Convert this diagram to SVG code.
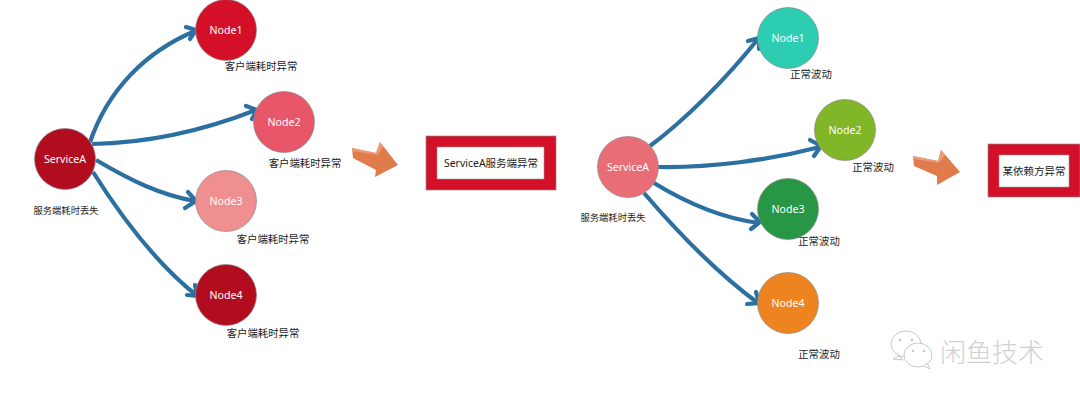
<svg xmlns="http://www.w3.org/2000/svg" width="1080" height="400" viewBox="0 0 1080 400">
<style>
text{font-family:"Noto Sans","Noto Sans CJK SC",sans-serif;text-anchor:middle}
.n{stroke:#8a8a8a;stroke-width:.7}
.nt{fill:#fff;font-size:10.6px}
.l{fill:#222;font-size:10.4px}
.s{fill:#222;font-size:9.3px}
.c{fill:none;stroke:#2b70a0;stroke-width:4.2}
.h{fill:none;stroke:#2b70a0;stroke-width:4.2;stroke-linecap:round;stroke-linejoin:miter}
.b{fill:#d31027;stroke:#8a8a8a;stroke-width:.7}
.i{fill:#fff;stroke:#999;stroke-width:.6}
.bt{fill:#222;font-size:10.5px}
.ar{fill:#e07b4c}
.ah{fill:#eb9b78}
.w{fill:#fff;stroke:#c8c8c8;stroke-width:1}
.wd{fill:#c8c8c8}
</style>
<g id="connectors">
<path class="c" d="M90 142C108 90 145 52 195 31"/><path class="h" d="M186 27L196 30L190 39"/>
<path class="c" d="M92 144C150 143 205 130 256 110"/><path class="h" d="M246 106L257 110L252 119"/>
<path class="c" d="M96 160C130 180 160 195 195 201"/><path class="h" d="M188 192L196 201L185 208"/>
<path class="c" d="M93 172C120 215 155 262 196 295"/><path class="h" d="M187 295L197 296L195 285"/>
<path class="c" d="M650 146C685 120 725 80 758 39"/><path class="h" d="M748 41L759 38L759 49"/>
<path class="c" d="M658 167C710 168 770 160 820 147"/><path class="h" d="M810 140L821 146L814 156"/>
<path class="c" d="M654 183C685 202 720 218 759 223"/><path class="h" d="M752 214L760 222L751 229"/>
<path class="c" d="M644 193C680 235 720 275 758 303"/><path class="h" d="M747 304L759 303L756 292"/>
</g>
<g id="serviceA-left"><circle class="n" cx="65" cy="159" r="30.5" fill="#b20d1f"/><text class="nt" x="65" y="163">ServiceA</text><text class="s" x="66" y="214">服务端耗时丢失</text></g>
<g id="node1-left"><circle class="n" cx="226" cy="30" r="30.5" fill="#d31027"/><text class="nt" x="226" y="34">Node1</text><text class="l" x="261" y="70">客户端耗时异常</text></g>
<g id="node2-left"><circle class="n" cx="284" cy="122" r="30.5" fill="#e8566a"/><text class="nt" x="284" y="126">Node2</text><text class="l" x="305" y="167">客户端耗时异常</text></g>
<g id="node3-left"><circle class="n" cx="226" cy="201" r="30.5" fill="#ef8f8f"/><text class="nt" x="226" y="205">Node3</text><text class="l" x="273" y="243">客户端耗时异常</text></g>
<g id="node4-left"><circle class="n" cx="226" cy="295" r="30.5" fill="#b20d1f"/><text class="nt" x="226" y="299">Node4</text><text class="l" x="263" y="337">客户端耗时异常</text></g>
<g id="arrow-left"><path class="ar" d="M352 148L376 153L380 142L398 165L375 177L376 170L353 158Z"/><path class="ah" d="M352 148L376 153L380 142L383 146L378 155L353 151Z"/></g>
<g id="result-left"><rect class="b" x="426" y="136" width="130" height="54"/><rect class="i" x="437" y="147" width="107" height="32"/><text class="bt" x="491" y="167">ServiceA服务端异常</text></g>
<g id="serviceA-right"><circle class="n" cx="628" cy="167" r="30.5" fill="#e96d76"/><text class="nt" x="628" y="171">ServiceA</text><text class="s" x="613" y="221">服务端耗时丢失</text></g>
<g id="node1-right"><circle class="n" cx="788" cy="38" r="30.5" fill="#2dcdb2"/><text class="nt" x="788" y="42">Node1</text><text class="l" x="811" y="78">正常波动</text></g>
<g id="node2-right"><circle class="n" cx="845" cy="130" r="30.5" fill="#80b628"/><text class="nt" x="845" y="134">Node2</text><text class="l" x="873" y="171">正常波动</text></g>
<g id="node3-right"><circle class="n" cx="788" cy="209" r="30.5" fill="#279645"/><text class="nt" x="788" y="213">Node3</text><text class="l" x="819" y="245">正常波动</text></g>
<g id="node4-right"><circle class="n" cx="788" cy="303" r="30.5" fill="#ee8420"/><text class="nt" x="788" y="307">Node4</text><text class="l" x="819" y="358">正常波动</text></g>
<g id="arrow-right"><path class="ar" d="M913 156L938 161L941 150L960 172L937 185L937 176L914 166Z"/><path class="ah" d="M913 156L938 161L941 150L945 155L939 163L914 159Z"/></g>
<g id="result-right"><rect class="b" x="988" y="144" width="92" height="53"/><rect class="i" x="999" y="155" width="70" height="32"/><text class="bt" x="1034" y="175">某依赖方异常</text></g>
<g id="watermark">
<ellipse class="w" cx="906" cy="344" rx="15" ry="13"/><path class="w" d="M899 356L893 359L903 360Z"/>
<circle class="wd" cx="900" cy="340" r="1.4"/><circle class="wd" cx="912" cy="340" r="1.4"/>
<ellipse class="w" cx="918" cy="355" rx="14" ry="12"/><path class="w" d="M924 366L930 369L927 363Z"/>
<circle class="wd" cx="913" cy="351" r="1.3"/><circle class="wd" cx="924" cy="351" r="1.3"/>
<text x="992" y="362" style="font-size:26px;fill:#c9c9c9;font-weight:300" opacity=".85">闲鱼技术</text>
</g>
</svg>
